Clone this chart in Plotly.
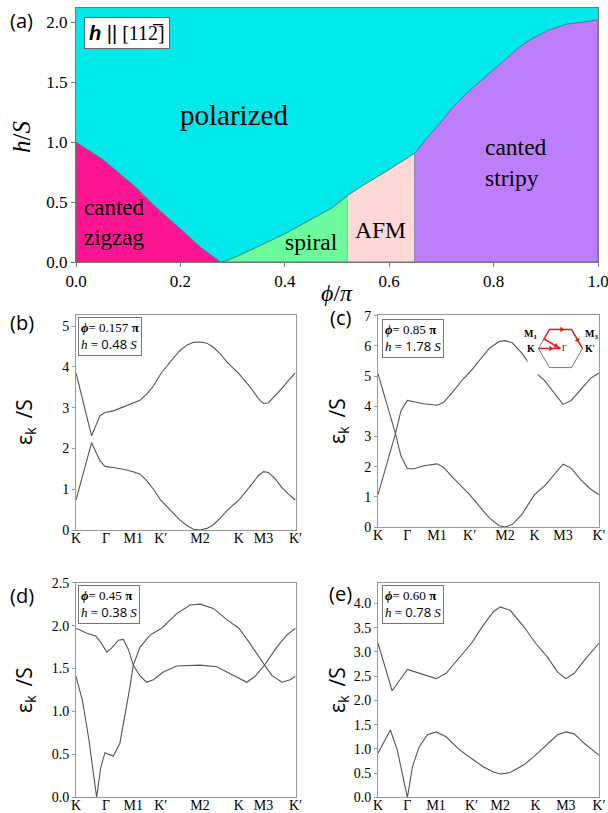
import plotly.graph_objects as go

W, H = 608, 813
SERIF = "Liberation Serif"
SANS = "Open Sans"

# ---------------- Panel (a): phase diagram ----------------
ZZ_PHI = [0.0, 0.052, 0.116, 0.148, 0.180, 0.212, 0.244, 0.277]
ZZ_H = [1.0, 0.852, 0.617, 0.477, 0.352, 0.227, 0.102, 0.0]
SP_PHI = [0.277, 0.29, 0.31, 0.35, 0.40, 0.45, 0.49, 0.520]
SP_H = [0.0, 0.012, 0.05, 0.13, 0.235, 0.355, 0.45, 0.553]
AFM_PHI = [0.520, 0.55, 0.59, 0.62, 0.649]
AFM_H = [0.553, 0.64, 0.745, 0.83, 0.908]
ST_PHI = [0.649, 0.672, 0.697, 0.723, 0.748, 0.774, 0.799, 0.825, 0.851, 0.876, 0.908, 0.940, 0.97, 1.0]
ST_H = [0.908, 1.033, 1.158, 1.297, 1.408, 1.505, 1.60, 1.70, 1.80, 1.87, 1.94, 1.985, 2.005, 2.02]
PHI_TICKS = [0.0, 0.2, 0.4, 0.6, 0.8, 1.0]
H_TICKS = [0.0, 0.5, 1.0, 1.5, 2.0]

# ---------------- Band panels ----------------
K_LABELS = ["K", "Γ", "M1", "K′", "M2", "K", "M3", "K′"]

# (b) phi=0.157 pi, h=0.48 S
B_TICKS = [0, 0.137, 0.261, 0.386, 0.565, 0.742, 0.854, 1.0]
B_X = [0, 0.071, 0.109, 0.132, 0.170, 0.216, 0.261, 0.292, 0.322, 0.353, 0.386, 0.413, 0.444, 0.474,
       0.505, 0.535, 0.565, 0.596, 0.626, 0.657, 0.687, 0.717, 0.742, 0.771, 0.801, 0.831, 0.854,
       0.877, 0.907, 0.938, 0.968, 1.0]
B_UP = [3.85, 2.31, 2.80, 2.88, 2.92, 3.02, 3.10, 3.18, 3.33, 3.53, 3.83, 4.02, 4.22, 4.40, 4.53, 4.60,
        4.61, 4.58, 4.48, 4.32, 4.12, 3.96, 3.83, 3.65, 3.45, 3.22, 3.10, 3.12, 3.28, 3.47, 3.67, 3.85]
B_LO = [0.73, 2.14, 1.70, 1.56, 1.53, 1.49, 1.43, 1.37, 1.21, 1.00, 0.73, 0.57, 0.41, 0.24, 0.11, 0.02,
        0.0, 0.04, 0.13, 0.29, 0.47, 0.62, 0.73, 0.92, 1.14, 1.33, 1.43, 1.41, 1.26, 1.04, 0.88, 0.73]

# (c) phi=0.85 pi, h=1.78 S
C_TICKS = [0, 0.133, 0.267, 0.415, 0.575, 0.708, 0.837, 1.0]
C_X = [0, 0.079, 0.104, 0.133, 0.163, 0.207, 0.267, 0.296, 0.341, 0.385, 0.415, 0.459, 0.504, 0.548,
       0.575, 0.607, 0.652, 0.68, 0.708, 0.756, 0.800, 0.837, 0.874, 0.919, 0.963, 1.0]
C_UP = [5.08, 3.09, 3.85, 4.19, 4.15, 4.08, 4.03, 4.12, 4.50, 4.90, 5.12, 5.50, 5.92, 6.14, 6.17, 6.10,
        5.75, 5.45, 5.15, 4.83, 4.40, 4.06, 4.19, 4.57, 4.93, 5.10]
C_LO = [1.07, 3.09, 2.35, 1.93, 1.93, 2.03, 2.09, 1.98, 1.62, 1.28, 1.07, 0.68, 0.30, 0.04, 0.0, 0.08,
        0.42, 0.75, 1.07, 1.38, 1.78, 2.08, 1.95, 1.55, 1.25, 1.07]

# (d) phi=0.45 pi, h=0.38 S
D_TICKS = [0, 0.137, 0.261, 0.386, 0.565, 0.742, 0.854, 1.0]
D_XA = [0, 0.05, 0.09, 0.117, 0.14, 0.163, 0.193, 0.216, 0.239, 0.261, 0.292, 0.322, 0.353, 0.398,
        0.459, 0.565, 0.641, 0.702, 0.748, 0.778, 0.816, 0.859, 0.892, 0.938, 0.976, 1.0]
D_A = [1.97, 1.91, 1.88, 1.79, 1.69, 1.74, 1.83, 1.84, 1.72, 1.54, 1.41, 1.34, 1.37, 1.46, 1.53, 1.54,
       1.52, 1.44, 1.37, 1.34, 1.41, 1.54, 1.42, 1.34, 1.37, 1.41]
D_XB = [0, 0.03, 0.06, 0.094, 0.113, 0.132, 0.15, 0.17, 0.20, 0.223, 0.246, 0.261, 0.292, 0.337,
        0.39, 0.459, 0.52, 0.565, 0.626, 0.687, 0.742, 0.793, 0.859, 0.915, 0.96, 1.0]
D_B = [1.41, 1.12, 0.65, 0.0, 0.35, 0.52, 0.50, 0.48, 0.63, 0.94, 1.29, 1.54, 1.75, 1.89, 1.97, 2.14,
       2.24, 2.25, 2.20, 2.07, 1.97, 1.79, 1.54, 1.75, 1.89, 1.97]

# (e) phi=0.60 pi, h=0.78 S
E_TICKS = [0, 0.133, 0.263, 0.423, 0.553, 0.713, 0.85, 1.0]
E_XU = [0, 0.064, 0.133, 0.19, 0.247, 0.263, 0.308, 0.369, 0.423, 0.476, 0.522, 0.553, 0.598, 0.66,
        0.713, 0.766, 0.812, 0.85, 0.888, 0.934, 1.0]
E_UP = [3.18, 2.20, 2.64, 2.55, 2.46, 2.45, 2.56, 2.90, 3.18, 3.55, 3.83, 3.93, 3.86, 3.52, 3.18, 2.90,
        2.59, 2.45, 2.56, 2.83, 3.18]
E_XL = [0, 0.056, 0.087, 0.11, 0.133, 0.156, 0.186, 0.224, 0.263, 0.308, 0.369, 0.423, 0.476, 0.522,
        0.553, 0.598, 0.66, 0.713, 0.766, 0.812, 0.85, 0.888, 0.934, 1.0]
E_LO = [0.91, 1.39, 0.98, 0.49, 0.0, 0.63, 1.04, 1.29, 1.35, 1.25, 0.98, 0.80, 0.63, 0.52, 0.48, 0.51,
        0.67, 0.87, 1.10, 1.29, 1.35, 1.31, 1.11, 0.87]

# Brillouin-zone inset (unit hexagon)
HEX_X = [1, 0.5, -0.5, -1, -0.5, 0.5, 1]
HEX_Y = [0, 0.866, 0.866, 0, -0.866, -0.866, 0]
PATH_X = [-1, 0, -0.75, -0.5, 0, 0.5, 0.75, 1]
PATH_Y = [0, 0, 0.433, 0.866, 0.866, 0.866, 0.433, 0]
ARROW_X = [-0.45, -0.2, 0.05, 0.78]
ARROW_Y = [0, 0.115, 0.866, 0.38]
ARROW_ANG = [90, 120, 90, 150]


def dx(a, b):
    return [a / W, b / W]


def dy(top, bottom):
    return [1 - bottom / H, 1 - top / H]


fig = go.Figure()

# ---- (a) phase regions ----
CYAN = "#00E8EA"
fig.add_trace(go.Scatter(x=[0, 1, 1, 0, 0], y=[0, 0, 2.3, 2.3, 0], fill="toself", fillcolor=CYAN,
                         line=dict(width=0), mode="lines", hoverinfo="skip", xaxis="x", yaxis="y"))
BL = dict(color="#55706f", width=0.9)
fig.add_trace(go.Scatter(x=[0] + ZZ_PHI + [0], y=[0] + ZZ_H + [0], fill="toself", fillcolor="#FF1493",
                         line=BL, mode="lines", xaxis="x", yaxis="y"))
fig.add_trace(go.Scatter(x=SP_PHI + [SP_PHI[-1], SP_PHI[0]], y=SP_H + [0, 0], fill="toself",
                         fillcolor="#6BFB9C", line=BL, mode="lines", xaxis="x", yaxis="y"))
fig.add_trace(go.Scatter(x=AFM_PHI + [AFM_PHI[-1], AFM_PHI[0]], y=AFM_H + [0, 0], fill="toself",
                         fillcolor="#FFD8D8", line=BL, mode="lines", xaxis="x", yaxis="y"))
fig.add_trace(go.Scatter(x=ST_PHI + [ST_PHI[-1], ST_PHI[0]], y=ST_H + [0, 0], fill="toself",
                         fillcolor="#BD7EFC", line=BL, mode="lines", xaxis="x", yaxis="y"))

# ---- band traces ----
LC = dict(color="#555555", width=1.1)
for xs, ys, ax in [(B_X, B_UP, "2"), (B_X, B_LO, "2"), (C_X, C_UP, "3"), (C_X, C_LO, "3"),
                   (D_XA, D_A, "4"), (D_XB, D_B, "4"), (E_XU, E_UP, "5"), (E_XL, E_LO, "5")]:
    fig.add_trace(go.Scatter(x=xs, y=ys, mode="lines", line=LC, xaxis="x" + ax, yaxis="y" + ax))

# ---- inset ----
fig.add_trace(go.Scatter(x=HEX_X, y=HEX_Y, mode="lines", line=dict(color="#777777", width=1),
                         xaxis="x6", yaxis="y6"))
fig.add_trace(go.Scatter(x=PATH_X, y=PATH_Y, mode="lines", line=dict(color="#E0201A", width=1.5),
                         xaxis="x6", yaxis="y6"))
fig.add_trace(go.Scatter(x=ARROW_X, y=ARROW_Y, mode="markers",
                         marker=dict(symbol="triangle-up", size=5, color="#E0201A", angle=ARROW_ANG),
                         xaxis="x6", yaxis="y6"))

tickfont_a = dict(family=SERIF, size=17, color="black")
tickfont_b = dict(family=SERIF, size=14, color="black")

layout = dict(
    template="none",
    width=W, height=H, margin=dict(l=0, r=0, t=0, b=0, autoexpand=False), showlegend=False,
    paper_bgcolor="white", plot_bgcolor="white",
    xaxis=dict(domain=dx(76, 598), range=[0, 1], tickvals=PHI_TICKS, tickformat=".1f", anchor="y",
               showline=True, mirror=True, linecolor="#777", ticks="outside", ticklen=4, tickcolor="#777",
               showgrid=False, zeroline=False, tickfont=tickfont_a, automargin=False,
               ticklabeloverflow="allow"),
    yaxis=dict(domain=dy(8, 262), range=[0, 2.12], tickvals=H_TICKS, tickformat=".1f", anchor="x",
               showline=True, mirror=True, linecolor="#777", ticks="outside", ticklen=4, tickcolor="#777",
               showgrid=False, zeroline=False, tickfont=tickfont_a, automargin=False),
)


def band_axes(n, xd, yd, ticks, yr, dtick, fmt):
    layout["xaxis" + n] = dict(domain=xd, range=[0, 1], tickvals=ticks, ticktext=K_LABELS, anchor="y" + n,
                               showline=True, mirror=True, linecolor="#999", ticks="", ticklen=0,
                               showgrid=False, zeroline=False, tickfont=tickfont_b, automargin=False,
                               ticklabelstandoff=-5, ticklabeloverflow="allow")
    layout["yaxis" + n] = dict(domain=yd, range=yr, dtick=dtick, tick0=0, tickformat=fmt, anchor="x" + n,
                               showline=True, mirror=True, linecolor="#999", ticks="outside", ticklen=3,
                               tickcolor="#999", showgrid=False, zeroline=False, tickfont=tickfont_b,
                               automargin=False)


band_axes("2", dx(76, 295.5), dy(315, 530), B_TICKS, [0, 5.27], 1, "d")
band_axes("3", dx(378, 599), dy(315, 527), C_TICKS, [0, 7.02], 1, "d")
band_axes("4", dx(76, 295.5), dy(582.7, 797.3), D_TICKS, [0, 2.5], 0.5, ".1f")
band_axes("5", dx(378, 599), dy(582.7, 797.3), E_TICKS, [0, 4.43], 0.5, ".1f")
layout["xaxis6"] = dict(domain=dx(527.5, 593.5), range=[-1.5, 1.5], visible=False, anchor="y6",
                        automargin=False)
layout["yaxis6"] = dict(domain=dy(322.5, 374.5), range=[-1.18, 1.18], visible=False, anchor="x6",
                        automargin=False)

fig.update_layout(**layout)

ann = []


def A(x, y, text, size, family=SERIF, xanchor="center", yanchor="middle", **kw):
    d = dict(x=x / W, y=1 - y / H, xref="paper", yref="paper", text=text, showarrow=False,
             xanchor=xanchor, yanchor=yanchor, font=dict(family=family, size=size, color="black"))
    d.update(kw)
    ann.append(d)


# panel labels
for lbl, x, y in [("(a)", 21, 20), ("(b)", 22, 323), ("(c)", 340, 317), ("(d)", 22, 595), ("(e)", 340, 593)]:
    A(x, y, lbl, 20, family=SANS)

# axis titles (a)
A(22, 137, "<i>h</i>/<i>S</i>", 25, textangle=-90)
A(337, 293, "<i>ϕ</i>/<i>π</i>", 24)

# phase labels
A(234, 115, "polarized", 29)
A(82, 222, "canted<br>zigzag", 23, xanchor="left", align="left")
A(311, 242, "spiral", 23.5)
A(380, 230, "AFM", 23.5)
A(483, 163, "canted<br>stripy", 23.5, xanchor="left", align="left")

# field direction box
A(84, 33, "<span style='font-family:Liberation Sans'><b><i>h</i></b> ||</span> [112\u0305]", 20,
  xanchor="left", bordercolor="#666", borderwidth=1, borderpad=4, bgcolor="white")

# epsilon titles
EPS = "ε<sub>k\u20d7</sub>/S"
for x, y in [(25, 422), (338, 421), (25, 690), (338, 690)]:
    A(x, y, EPS, 21, family=SANS, textangle=-90)

# parameter boxes
for x, y, p, h in [(78, 317.5, "0.157", "0.48"), (382, 318.5, "0.85", "1.78"),
                   (78, 585, "0.45", "0.38"), (382, 585, "0.60", "0.78")]:
    txt = ("<b><i>ϕ</i></b>= %s <b>π</b><br><i>h</i> = <span style='font-family:Open Sans'>%s</span> <i>S</i>"
           % (p, h))
    A(x, y, txt, 13, xanchor="left", yanchor="top", align="left", bordercolor="#777", borderwidth=1,
      borderpad=2, bgcolor="white")

# inset labels
for x, y, t, s in [(-1.38, 0.62, "<b>M<sub>1</sub></b>", 10), (0.02, 1.3, "<b>M<sub>2</sub></b>", 10),
                   (1.42, 0.62, "<b>M<sub>3</sub></b>", 10), (-1.36, -0.02, "<b>K</b>", 10),
                   (1.32, -0.02, "<b>K</b>'", 10), (0.2, 0.0, "Γ", 8)]:
    ann.append(dict(x=x, y=y, xref="x6", yref="y6", text=t, showarrow=False,
                    font=dict(family=SERIF, size=s, color="black")))

fig.update_layout(annotations=ann)
fig.write_html("out.html", config={"displayModeBar": False},
               post_script="document.body.style.margin='0';")
